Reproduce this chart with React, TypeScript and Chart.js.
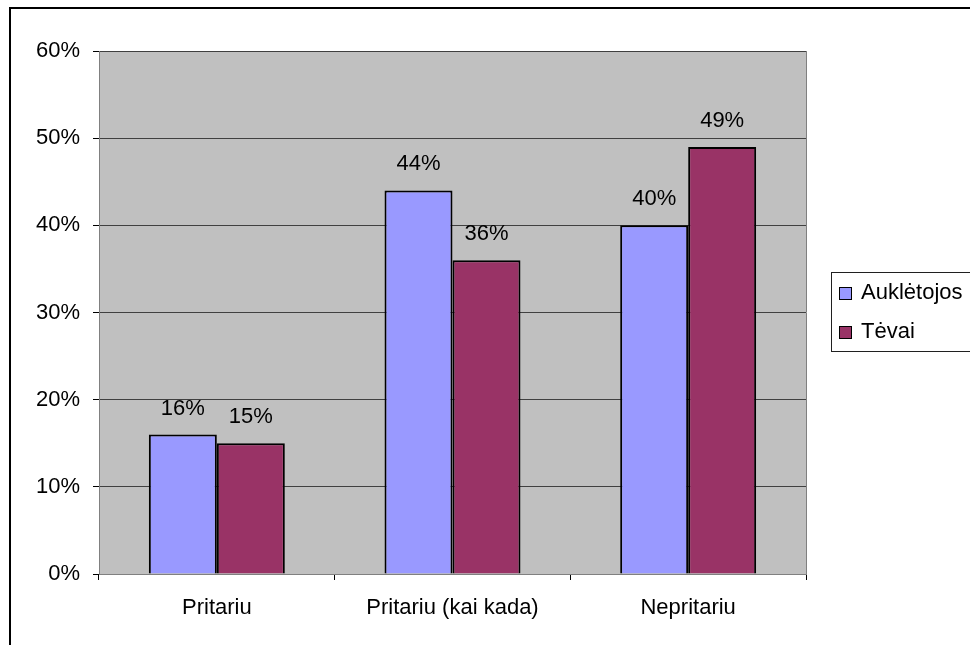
import React, { useEffect, useRef } from "react";
import { Chart, registerables } from "chart.js";

Chart.register(...registerables);

const categories = ["Pritariu", "Pritariu (kai kada)", "Nepritariu"];
const seriesNames = ["Auklėtojos", "Tėvai"];
const auklValues = [16, 44, 40];
const tevaiValues = [15, 36, 49];
const colors = ["#9999ff", "#993366"];
const FONT = "'Liberation Sans', Arial, sans-serif";

const framePlugin = {
  id: "frame",
  beforeDraw(chart: any) {
    const { ctx, chartArea } = chart;
    ctx.save();
    ctx.fillStyle = "#ffffff";
    ctx.fillRect(0, 0, chart.width, chart.height);
    ctx.strokeStyle = "#000";
    ctx.lineWidth = 2;
    ctx.strokeRect(10, 8, 1000, 700);
    ctx.fillStyle = "#c0c0c0";
    ctx.fillRect(chartArea.left, chartArea.top, chartArea.right - chartArea.left, chartArea.bottom - chartArea.top);
    ctx.restore();
  },
  afterDatasetsDraw(chart: any) {
    const { ctx, chartArea } = chart;
    ctx.save();
    ctx.strokeStyle = "#808080";
    ctx.lineWidth = 1;
    ctx.beginPath();
    ctx.moveTo(Math.round(chartArea.right) + 0.5, chartArea.top);
    ctx.lineTo(Math.round(chartArea.right) + 0.5, chartArea.bottom);
    ctx.stroke();
    // data labels
    ctx.fillStyle = "#000";
    ctx.font = `22px ${FONT}`;
    ctx.textAlign = "center";
    ctx.textBaseline = "alphabetic";
    chart.data.datasets.forEach((ds: any, i: number) => {
      const meta = chart.getDatasetMeta(i);
      meta.data.forEach((bar: any, j: number) => {
        ctx.fillText(ds.data[j] + "%", bar.x, bar.y - 20);
      });
    });
    // legend
    const lx = 831, ly = 272;
    ctx.fillStyle = "#fff";
    ctx.fillRect(lx, ly, 200, 80);
    ctx.strokeStyle = "#202020";
    ctx.lineWidth = 1;
    ctx.strokeRect(lx + 0.5, ly + 0.5, 200, 79);
    ctx.textAlign = "left";
    ctx.textBaseline = "middle";
    seriesNames.forEach((name, i) => {
      const cy = 293 + i * 39;
      ctx.fillStyle = colors[i];
      ctx.fillRect(839, cy - 6, 13, 13);
      ctx.strokeStyle = "#000";
      ctx.strokeRect(839.5, cy - 5.5, 12, 12);
      ctx.fillStyle = "#000";
      ctx.fillText(name, 861, cy);
    });
    ctx.restore();
  },
};

export default function App() {
  const ref = useRef<HTMLCanvasElement>(null);
  useEffect(() => {
    const chart = new Chart(ref.current!, {
      type: "bar",
      data: {
        labels: categories,
        datasets: [
          { label: seriesNames[0], data: auklValues, backgroundColor: colors[0], borderColor: "#000", borderWidth: 2 },
          { label: seriesNames[1], data: tevaiValues, backgroundColor: colors[1], borderColor: "#000", borderWidth: 2 },
        ],
      },
      options: {
        responsive: false,
        animation: false,
        events: [],
        layout: { padding: { left: 0, right: 164, top: 51, bottom: 0 } },
        plugins: { legend: { display: false }, tooltip: { enabled: false } },
        datasets: { bar: { categoryPercentage: 0.577, barPercentage: 1 } },
        scales: {
          x: {
            afterFit(scale: any) { scale.height = 71; },
            grid: { drawOnChartArea: false, drawTicks: true, tickLength: 6, color: "#000", offset: true },
            border: { color: "#808080" },
            ticks: { color: "#000", font: { family: FONT, size: 22 }, padding: 15 },
          },
          y: {
            min: 0,
            max: 60,
            afterFit(scale: any) { scale.width = 99; },
            grid: { color: "#404040", tickLength: 6, tickColor: "#000" },
            border: { color: "#808080" },
            ticks: { stepSize: 10, color: "#000", font: { family: FONT, size: 22 }, padding: 13, callback: (v: any) => v + "%" },
          },
        },
      },
      plugins: [framePlugin],
    });
    return () => chart.destroy();
  }, []);
  return (
    <div style={{ position: "fixed", left: 0, top: 0, width: 970, height: 645 }}>
      <canvas ref={ref} width={970} height={645} style={{ display: "block" }} />
    </div>
  );
}
